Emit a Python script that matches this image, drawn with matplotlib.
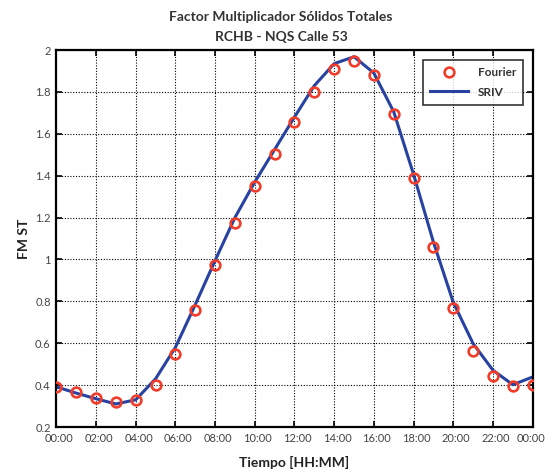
import matplotlib
matplotlib.use("Agg")
import matplotlib.pyplot as plt
from matplotlib.transforms import ScaledTranslation

plt.rcParams['font.family'] = ['Lato', 'DejaVu Sans']

hours = list(range(25))
fourier = [0.392, 0.366, 0.338, 0.318, 0.328, 0.400, 0.548, 0.757, 0.973,
           1.176, 1.353, 1.505, 1.658, 1.800, 1.910, 1.948, 1.880, 1.693,
           1.387, 1.060, 0.766, 0.562, 0.442, 0.394, 0.399]
sriv = [0.392, 0.362, 0.335, 0.310, 0.330, 0.430, 0.580, 0.784, 0.995,
        1.200, 1.370, 1.525, 1.680, 1.830, 1.935, 1.968, 1.890, 1.705,
        1.406, 1.083, 0.795, 0.598, 0.471, 0.402, 0.439]
xtick_hours = list(range(0, 25, 2))
xtick_labels = ["00:00", "02:00", "04:00", "06:00", "08:00", "10:00", "12:00",
                "14:00", "16:00", "18:00", "20:00", "22:00", "00:00"]
ytick_vals = [0.2, 0.4, 0.6, 0.8, 1.0, 1.2, 1.4, 1.6, 1.8, 2.0]
ytick_labels = ["0.2", "0.4", "0.6", "0.8", "1", "1.2", "1.4", "1.6", "1.8", "2"]

fig = plt.figure(figsize=(5.45, 4.72), dpi=100)
ax = fig.add_axes([0.1033, 0.0953, 0.8741, 0.7987])

ax.plot(hours, fourier, linestyle='none', marker='o', markersize=7,
        markerfacecolor='none', markeredgecolor='#f03c28', markeredgewidth=1.9,
        label='Fourier', zorder=3)
ax.plot(hours, sriv, color='#2742a0', linewidth=2.2, label='SRIV', zorder=2)

ax.set_xlim(0, 24)
ax.set_ylim(0.2, 2.0)
ax.set_xticks(xtick_hours)
ax.set_xticklabels(xtick_labels)
ax.set_yticks(ytick_vals)
ax.set_yticklabels(ytick_labels)

ax.grid(True, color='black', linestyle=(0, (1, 1.5)), linewidth=0.8)
ax.tick_params(direction='in', length=4, width=1.2, top=True, right=True,
               labelsize=8, labelcolor='#444444', pad=4)
for s in ax.spines.values():
    s.set_linewidth(1.6)

# nudge the hour labels slightly right, keep the last one inside the canvas
xlabels = ax.get_xticklabels()
for i, lab in enumerate(xlabels):
    dx = 3 if i < len(xlabels) - 1 else -2
    lab.set_transform(lab.get_transform() + ScaledTranslation(dx / 100, 0, fig.dpi_scale_trans))

ax.set_xlabel('Tiempo [HH:MM]', fontsize=10, fontweight='bold', color='#222222', labelpad=9)
ax.set_ylabel('FM ST', fontsize=10, fontweight='bold', color='#222222', labelpad=4)

fig.text(0.516, 0.965, 'Factor Multiplicador Sólidos Totales', ha='center', va='center',
         fontsize=10, fontweight='bold', color='#333333')
fig.text(0.516, 0.922, 'RCHB - NQS Calle 53', ha='center', va='center',
         fontsize=10, fontweight='bold', color='#333333')

leg = ax.legend(loc='upper right', bbox_to_anchor=(0.98, 0.973), borderaxespad=0,
                fontsize=8.5, frameon=True, fancybox=False, edgecolor='black',
                handlelength=3.2, borderpad=0.6, labelspacing=0.7)
leg.get_frame().set_linewidth(1.2)
for t in leg.get_texts():
    t.set_fontweight('bold')
    t.set_color('#333333')

fig.savefig('out.png', dpi=100)
